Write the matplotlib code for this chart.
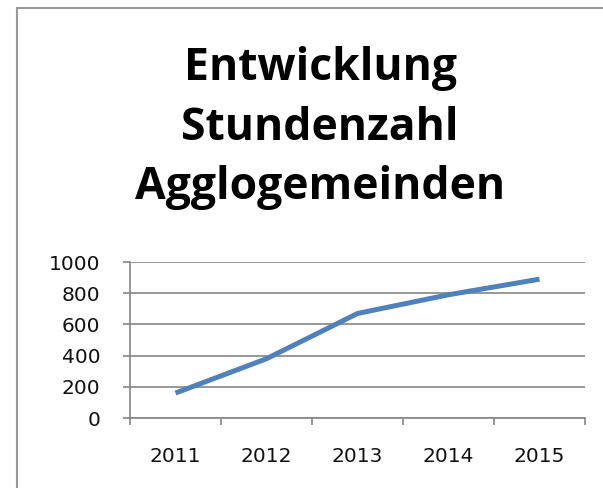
import matplotlib.pyplot as plt
from matplotlib.patches import Rectangle

# Daten
jahre = ['2011', '2012', '2013', '2014', '2015']
stunden = [160, 380, 670, 790, 890]
y_ticks = [0, 200, 400, 600, 800, 1000]

titel = 'Entwicklung\nStundenzahl\nAgglogemeinden'

fig = plt.figure(figsize=(6.03, 4.88), dpi=100)
fig.patch.set_facecolor('white')

# Rahmen des Diagramms (rechts und unten abgeschnitten)
W, H = 603, 488
fig.patches.append(Rectangle((17 / W, -0.1), 1.2, (H - 8) / H + 0.1,
                             transform=fig.transFigure, fill=False,
                             edgecolor='#9a9a9a', linewidth=1.5))

ax = fig.add_axes([130 / W, 1 - 418 / H, (585 - 130) / W, (418 - 262) / H])
x = list(range(len(jahre)))
ax.plot(x, stunden, color='#4F81BD', linewidth=3.6, solid_capstyle='butt')

ax.set_xlim(-0.5, len(jahre) - 0.5)
ax.set_ylim(0, 1000)
ax.set_yticks(y_ticks)
ax.set_yticklabels([str(v) for v in y_ticks])
ax.set_xticks(x)
ax.set_xticklabels(jahre)
ax.set_xticks([i - 0.5 for i in range(len(jahre) + 1)], minor=True)
ax.tick_params(axis='x', which='major', length=0, pad=21, labelsize=14.5, colors='#111111')
ax.tick_params(axis='x', which='minor', length=5, width=1.2, color='#868686', direction='out')
ax.tick_params(axis='y', length=5, width=1.2, color='#868686', pad=16.5, labelsize=14.5, labelcolor='#111111')

for label in ax.get_xticklabels() + ax.get_yticklabels():
    label.set_fontfamily('DejaVu Sans')

ax.grid(axis='y', color='#868686', linewidth=1.2)
ax.set_axisbelow(True)
for s in ['top', 'right']:
    ax.spines[s].set_visible(False)
for s in ['left', 'bottom']:
    ax.spines[s].set_color('#868686')
    ax.spines[s].set_linewidth(1.2)

fig.text(320 / W, 1 - 128 / H, titel, ha='center', va='center', fontsize=32,
         fontweight='bold', fontfamily='Open Sans', linespacing=1.42, color='black')

plt.savefig('out.png', dpi=100)
